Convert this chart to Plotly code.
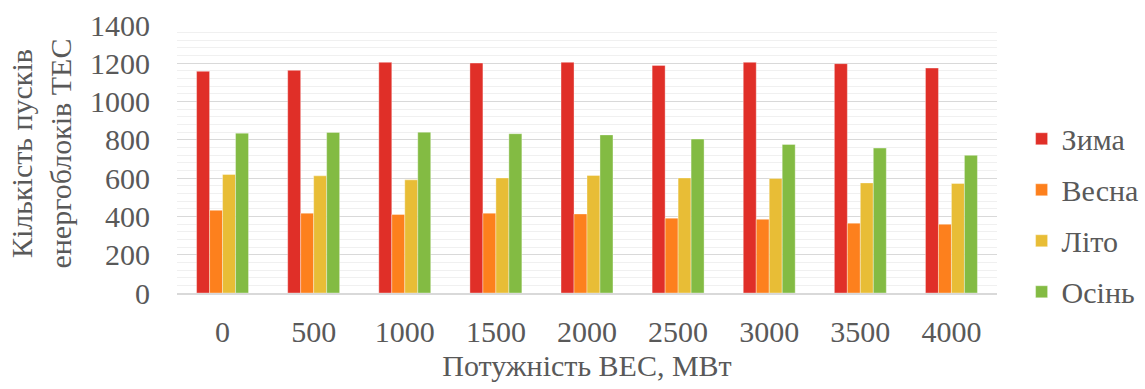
import plotly.graph_objects as go

categories = ["0", "500", "1000", "1500", "2000", "2500", "3000", "3500", "4000"]
zyma = [1158, 1163, 1205, 1201, 1205, 1189, 1205, 1198, 1175]
vesna = [432, 417, 410, 417, 413, 391, 385, 365, 359]
lito = [619, 612, 591, 601, 614, 601, 598, 575, 572]
osin = [835, 839, 840, 832, 826, 804, 776, 757, 719]

series = [
    ("Зима", zyma, "#E02F28"),
    ("Весна", vesna, "#FD801D"),
    ("Літо", lito, "#E8BD36"),
    ("Осінь", osin, "#83BB43"),
]

FONT = "Liberation Serif, Times New Roman, serif"
GRAY = "#595959"

fig = go.Figure()
for i, (name, vals, col) in enumerate(series):
    fig.add_trace(go.Bar(
        x=categories, y=vals, name=name, legendgroup=f"g{i}",
        marker=dict(color=col, line=dict(color="rgba(255,255,255,0.6)", width=0.6)),
    ))

fig.update_layout(
    width=1145, height=389,
    margin=dict(l=177, r=148, t=25, b=96, autoexpand=False),
    paper_bgcolor="white", plot_bgcolor="white",
    barmode="group", bargap=0.43, bargroupgap=0,
    font=dict(family=FONT, size=30, color=GRAY),
    showlegend=True,
    legend=dict(
        x=1.030, xanchor="left", y=0.29, yanchor="middle",
        font=dict(family=FONT, size=30, color=GRAY),
        tracegroupgap=9, itemwidth=30,
        bgcolor="rgba(0,0,0,0)",
    ),
    xaxis=dict(
        type="category", automargin=False,
        showgrid=False, showline=True, linecolor="#d9d9d9", linewidth=1.5,
        ticks="", tickfont=dict(family=FONT, size=30, color=GRAY),
        ticklabelstandoff=11,
        title=dict(text="Потужність ВЕС, МВт", font=dict(family=FONT, size=30, color=GRAY), standoff=8),
    ),
    yaxis=dict(
        range=[0, 1400], dtick=200, tick0=0, automargin=False,
        showgrid=True, gridcolor="#d9d9d9", gridwidth=1.2,
        zeroline=False, showline=False,
        ticks="", tickfont=dict(family=FONT, size=30, color=GRAY),
        ticklabelstandoff=26,
        minor=dict(dtick=40, tick0=0, showgrid=True, gridcolor="#f0f0f0", gridwidth=1.2),
    ),
)

fig.add_annotation(
    text="Кількість пусків<br>енергоблоків ТЕС",
    xref="paper", yref="paper", x=-0.166, y=0.52,
    xanchor="center", yanchor="middle", textangle=-90, showarrow=False,
    font=dict(family=FONT, size=30, color=GRAY),
)

fig.write_html(
    "out.html",
    config={"displayModeBar": False},
    post_script="document.body.style.margin='0';document.body.style.padding='0';",
)
